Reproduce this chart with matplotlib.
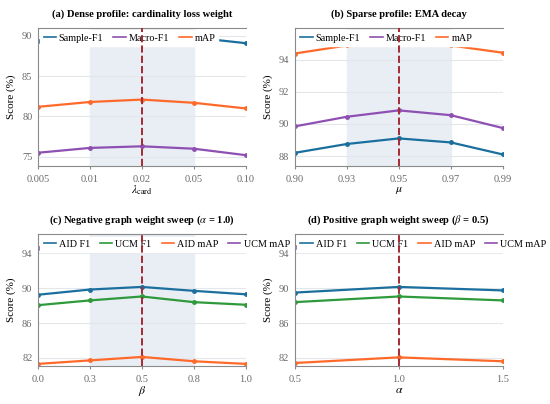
import numpy as np
from matplotlib import pyplot as plt

plt.rcParams['font.family'] = ['Liberation Serif', 'DejaVu Serif']
plt.rcParams['mathtext.fontset'] = 'stix'

# (a) dense profile, cardinality loss weight
lam_labels = ["0.005", "0.01", "0.02", "0.05", "0.10"]
a_sample_f1 = [89.4, 89.9, 90.2, 89.8, 89.1]
a_macro_f1 = [75.5, 76.1, 76.3, 76.0, 75.2]
a_map = [81.2, 81.8, 82.1, 81.7, 81.0]

# (b) sparse profile, EMA decay
mu_labels = ["0.90", "0.93", "0.95", "0.97", "0.99"]
b_sample_f1 = [88.2, 88.75, 89.1, 88.85, 88.1]
b_macro_f1 = [89.85, 90.45, 90.85, 90.55, 89.75]
b_map = [94.4, 94.9, 95.1, 94.9, 94.45]

# (c) negative graph weight sweep
beta_labels = ["0.0", "0.3", "0.5", "0.8", "1.0"]
c_aid_f1 = [89.25, 89.85, 90.15, 89.7, 89.3]
c_ucm_f1 = [88.05, 88.6, 89.05, 88.4, 88.1]
c_aid_map = [81.3, 81.7, 82.1, 81.6, 81.3]
c_ucm_map = [94.65, 95.0, 95.2, 94.9, 94.7]

# (d) positive graph weight sweep
alpha_labels = ["0.5", "1.0", "1.5"]
d_aid_f1 = [89.5, 90.15, 89.75]
d_ucm_f1 = [88.4, 89.05, 88.6]
d_aid_map = [81.4, 82.05, 81.6]
d_ucm_map = [94.75, 95.1, 94.9]

BLUE = "#1b6f9e"
PURPLE = "#8e50b2"
ORANGE = "#ff6a2b"
GREEN = "#2e9a3c"
RED = "#a52a35"


def style(ax, labels, ylim, yticks, xlabel, title, best, span=None):
    x = np.arange(len(labels))
    ax.set_xlim(0, len(labels) - 1)
    ax.set_ylim(*ylim)
    ax.set_xticks(x)
    ax.set_xticklabels(labels)
    ax.set_yticks(yticks)
    ax.tick_params(axis="x", length=2.5, width=0.8, color="#8a8a8a")
    ax.tick_params(axis="y", length=0)
    ax.tick_params(labelsize=7.5, labelcolor="#6a6a6a", pad=4)
    ax.set_xlabel(xlabel, fontsize=8.5, labelpad=0)
    ax.set_ylabel("Score (%)", fontsize=8, labelpad=4)
    ax.set_title(title, fontsize=7.6, fontweight="bold", pad=8)
    ax.grid(axis="y", color="#e3e6ea", linewidth=0.8)
    ax.set_axisbelow(True)
    for s in ["left", "bottom", "top"]:
        ax.spines[s].set_color("#8a8a8a")
    ax.spines["right"].set_visible(False)
    if span is not None:
        ax.axvspan(span[0], span[1], color="#e9eef4", zorder=0)
    ax.axvline(best, color=RED, linestyle="--", linewidth=1.4, zorder=6)


fig = plt.figure(figsize=(5.5, 4.04), dpi=100)
ax_a = fig.add_axes([0.069, 0.590, 0.378, 0.341])
ax_b = fig.add_axes([0.536, 0.590, 0.378, 0.341])
ax_c = fig.add_axes([0.069, 0.095, 0.378, 0.325])
ax_d = fig.add_axes([0.536, 0.095, 0.378, 0.325])

kw = dict(linewidth=1.6, marker="o", markersize=2.5, zorder=2)

x = np.arange(len(lam_labels))
ax_a.plot(x, a_sample_f1, color=BLUE, label="Sample-F1", **kw)
ax_a.plot(x, a_macro_f1, color=PURPLE, label="Macro-F1", **kw)
ax_a.plot(x, a_map, color=ORANGE, label="mAP", **kw)
style(ax_a, lam_labels, (73.9, 91.0), [75, 80, 85, 90], r"$\lambda_{\mathrm{card}}$",
      "(a) Dense profile: cardinality loss weight", 2, (1, 3))

x = np.arange(len(mu_labels))
ax_b.plot(x, b_sample_f1, color=BLUE, label="Sample-F1", **kw)
ax_b.plot(x, b_macro_f1, color=PURPLE, label="Macro-F1", **kw)
ax_b.plot(x, b_map, color=ORANGE, label="mAP", **kw)
style(ax_b, mu_labels, (87.4, 96.0), [88, 90, 92, 94], r"$\mu$",
      "(b) Sparse profile: EMA decay", 2, (1, 3))

x = np.arange(len(beta_labels))
ax_c.plot(x, c_aid_f1, color=BLUE, label="AID F1", **kw)
ax_c.plot(x, c_ucm_f1, color=GREEN, label="UCM F1", **kw)
ax_c.plot(x, c_aid_map, color=ORANGE, label="AID mAP", **kw)
ax_c.plot(x, c_ucm_map, color=PURPLE, label="UCM mAP", **kw)
style(ax_c, beta_labels, (81.1, 96.2), [82, 86, 90, 94], r"$\beta$",
      r"(c) Negative graph weight sweep ($\alpha$ = 1.0)", 2, (1, 3))

x = np.arange(len(alpha_labels))
ax_d.plot(x, d_aid_f1, color=BLUE, label="AID F1", **kw)
ax_d.plot(x, d_ucm_f1, color=GREEN, label="UCM F1", **kw)
ax_d.plot(x, d_aid_map, color=ORANGE, label="AID mAP", **kw)
ax_d.plot(x, d_ucm_map, color=PURPLE, label="UCM mAP", **kw)
style(ax_d, alpha_labels, (81.1, 96.2), [82, 86, 90, 94], r"$\alpha$",
      r"(d) Positive graph weight sweep ($\beta$ = 0.5)", 1)

for ax, n in [(ax_a, 3), (ax_b, 3), (ax_c, 4), (ax_d, 4)]:
    leg = ax.legend(loc="upper left", ncol=n, fontsize=7.3, frameon=True,
                    framealpha=1.0, edgecolor="white", fancybox=False,
                    handlelength=1.2, handletextpad=0.3, columnspacing=1.0,
                    borderaxespad=0.25, borderpad=0.3)
    leg.set_zorder(5)
    for h in leg.get_lines():
        h.set_marker("")
        h.set_linewidth(1.2)

fig.savefig("out.png", dpi=100)
